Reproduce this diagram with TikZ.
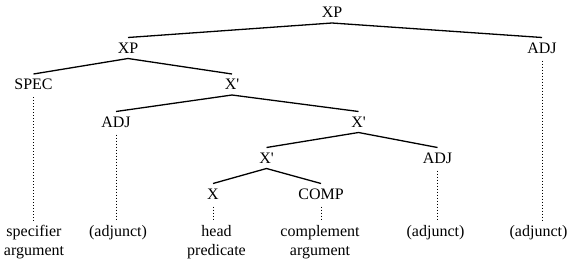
\documentclass[tikz,border=0pt]{standalone}
\usepackage{fontspec}
\setmainfont{Liberation Serif}
\begin{document}
\begin{tikzpicture}[x=1bp,y=-1bp,
  every node/.style={font=\fontsize{16bp}{19.5bp}\selectfont},
  cat/.style={inner sep=0pt, outer sep=0pt, text height=10.6bp, text depth=0pt, minimum height=21bp},
  leaf/.style={inner sep=0pt, outer sep=0pt, anchor=north, align=center},
  branch/.style={line width=1.3bp},
  dotline/.style={line width=0.9bp, dash pattern=on 0.9bp off 2.1bp, shorten <=2bp, shorten >=3.5bp}]
\useasboundingbox (0,0) rectangle (581,262);
% categories
\node[cat] (xp0) at (332,12.5) {XP};
\node[cat] (xp1) at (128,48) {XP};
\node[cat] (adj0) at (542,48) {ADJ};
\node[cat] (spec) at (33.5,84.5) {SPEC};
\node[cat] (xb1) at (232,84.5) {X\textquotesingle};
\node[cat] (adj1) at (116,122) {ADJ};
\node[cat] (xb2) at (358.5,122) {X\textquotesingle};
\node[cat] (xb3) at (266.5,158) {X\textquotesingle};
\node[cat] (adj2) at (437.5,158) {ADJ};
\node[cat] (x) at (213,194) {X};
\node[cat] (comp) at (321,194) {COMP};
% leaves
\node[leaf] (l1) at (34,225) {specifier\\argument};
\node[leaf] (l2) at (118,225) {(adjunct)};
\node[leaf] (l3) at (216.5,225) {head\\predicate};
\node[leaf] (l4) at (320,225) {complement\\argument};
\node[leaf] (l5) at (435.5,225) {(adjunct)};
\node[leaf] (l6) at (538.5,225) {(adjunct)};
% branches
\draw[branch] (xp1.north) -- (xp0.south) -- (adj0.north);
\draw[branch] (spec.north) -- (xp1.south) -- (xb1.north);
\draw[branch] (adj1.north) -- (xb1.south) -- (xb2.north);
\draw[branch] (xb3.north) -- (xb2.south) -- (adj2.north);
\draw[branch] (x.north) -- (xb3.south) -- (comp.north);
% dotted
\draw[dotline] (spec.south) -- (spec.south |- l1.north);
\draw[dotline] (adj1.south) -- (adj1.south |- l2.north);
\draw[dotline] (x.south) -- (x.south |- l3.north);
\draw[dotline] (comp.south) -- (comp.south |- l4.north);
\draw[dotline] (adj2.south) -- (adj2.south |- l5.north);
\draw[dotline] (adj0.south) -- (adj0.south |- l6.north);
\end{tikzpicture}
\end{document}
